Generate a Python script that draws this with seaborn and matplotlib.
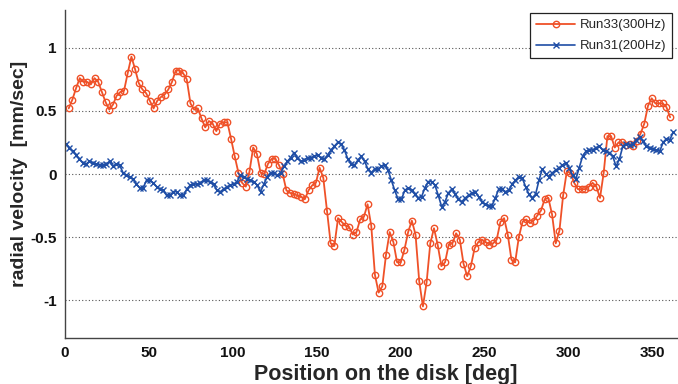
import numpy as np
import pandas as pd
import matplotlib
matplotlib.use("Agg")
import matplotlib.pyplot as plt
import seaborn as sns

# ---------------- data ----------------
red_label = "Run33(300Hz)"
blue_label = "Run31(200Hz)"

red_start, red_step = 2.2, 2.2
red_vals = [
    0.52, 0.59, 0.68, 0.76, 0.73, 0.73, 0.71, 0.76, 0.73, 0.65,
    0.57, 0.51, 0.55, 0.62, 0.65, 0.66, 0.80, 0.93, 0.83, 0.72,
    0.67, 0.64, 0.58, 0.52, 0.58, 0.61, 0.63, 0.67, 0.73, 0.82,
    0.82, 0.80, 0.75, 0.56, 0.51, 0.52, 0.44, 0.37, 0.42, 0.40,
    0.34, 0.40, 0.41, 0.41, 0.28, 0.14, 0.01, -0.07, -0.10, 0.02,
    0.21, 0.16, 0.01, 0.00, 0.08, 0.12, 0.12, 0.07, 0.00, -0.13,
    -0.15, -0.16, -0.17, -0.18, -0.20, -0.13, -0.09, -0.07, 0.05, -0.03,
    -0.29, -0.55, -0.57, -0.35, -0.38, -0.41, -0.42, -0.48, -0.46, -0.36,
    -0.34, -0.24, -0.41, -0.80, -0.94, -0.89, -0.64, -0.46, -0.54, -0.70,
    -0.70, -0.60, -0.46, -0.37, -0.48, -0.85, -1.05, -0.86, -0.55, -0.43,
    -0.56, -0.73, -0.70, -0.56, -0.55, -0.47, -0.52, -0.71, -0.81, -0.73,
    -0.59, -0.54, -0.52, -0.54, -0.56, -0.55, -0.52, -0.38, -0.35, -0.48,
    -0.68, -0.70, -0.50, -0.38, -0.36, -0.39, -0.37, -0.33, -0.29, -0.20,
    -0.19, -0.32, -0.55, -0.45, -0.17, 0.02, 0.01, -0.07, -0.12, -0.12,
    -0.12, -0.10, -0.07, -0.10, -0.19, 0.01, 0.30, 0.30, 0.21, 0.25,
    0.25, 0.23, 0.24, 0.22, 0.26, 0.32, 0.40, 0.54, 0.60, 0.56,
    0.56, 0.56, 0.53, 0.45,
]

blue_start, blue_step = 0.6, 2.0
blue_vals = [
    0.24, 0.21, 0.18, 0.15, 0.12, 0.09, 0.08, 0.10, 0.09, 0.08,
    0.07, 0.07, 0.08, 0.10, 0.06, 0.08, 0.07, 0.01, -0.01, -0.02,
    -0.04, -0.08, -0.11, -0.11, -0.05, -0.05, -0.07, -0.10, -0.12, -0.13,
    -0.17, -0.17, -0.14, -0.14, -0.17, -0.17, -0.12, -0.09, -0.08, -0.08,
    -0.07, -0.05, -0.05, -0.06, -0.08, -0.13, -0.14, -0.12, -0.10, -0.09,
    -0.08, -0.06, -0.01, -0.02, -0.04, -0.05, -0.06, -0.09, -0.14, -0.08,
    -0.02, 0.01, 0.01, -0.01, 0.01, 0.06, 0.10, 0.13, 0.17, 0.13,
    0.10, 0.11, 0.13, 0.13, 0.14, 0.15, 0.13, 0.12, 0.15, 0.19,
    0.22, 0.25, 0.24, 0.19, 0.12, 0.08, 0.07, 0.11, 0.14, 0.10,
    0.04, 0.01, 0.04, 0.04, 0.06, 0.07, 0.03, -0.05, -0.13, -0.20,
    -0.20, -0.13, -0.11, -0.13, -0.16, -0.19, -0.18, -0.11, -0.06, -0.06,
    -0.09, -0.17, -0.26, -0.22, -0.15, -0.12, -0.16, -0.20, -0.22, -0.19,
    -0.17, -0.15, -0.14, -0.18, -0.22, -0.24, -0.25, -0.25, -0.19, -0.12,
    -0.12, -0.14, -0.13, -0.08, -0.05, -0.02, -0.03, -0.10, -0.16, -0.19,
    -0.16, -0.05, 0.04, 0.00, -0.02, 0.01, 0.03, 0.05, 0.07, 0.09,
    0.05, -0.01, -0.04, 0.05, 0.14, 0.18, 0.19, 0.19, 0.21, 0.22,
    0.19, 0.18, 0.17, 0.14, 0.06, 0.12, 0.22, 0.24, 0.23, 0.24,
    0.27, 0.29, 0.26, 0.22, 0.21, 0.20, 0.19, 0.18, 0.25, 0.28,
    0.27, 0.33,
]

x_ticks = [0, 50, 100, 150, 200, 250, 300, 350]
y_ticks = [-1, -0.5, 0, 0.5, 1]
y_ticklabels = ["-1", "-0.5", "0", "0.5", "1"]
x_label = "Position on the disk [deg]"
y_label = "radial velocity  [mm/sec]"

red_x = red_start + red_step * np.arange(len(red_vals))
blue_x = blue_start + blue_step * np.arange(len(blue_vals))
df_red = pd.DataFrame({"deg": red_x, "vel": red_vals})
df_blue = pd.DataFrame({"deg": blue_x, "vel": blue_vals})

# ---------------- style ----------------
sns.set_style("white")
plt.rcParams["font.family"] = ["Liberation Sans", "DejaVu Sans"]

RED = "#EF5128"
BLUE = "#1F4EA6"

fig = plt.figure(figsize=(6.78, 3.84), dpi=100)
ax = fig.add_axes([65 / 678, 1 - 338 / 384, 1 - 65 / 678, (338 - 10) / 384])

sns.lineplot(data=df_red, x="deg", y="vel", ax=ax, color=RED, lw=1.3,
             marker="o", markersize=4.6, markerfacecolor="none",
             markeredgecolor=RED, markeredgewidth=1.0, label=red_label)
sns.lineplot(data=df_blue, x="deg", y="vel", ax=ax, color=BLUE, lw=1.2,
             marker="x", markersize=4.0, markeredgecolor=BLUE,
             markeredgewidth=1.0, label=blue_label)

ax.set_xlim(0, 365.5)
ax.set_ylim(-1.3, 1.3)
ax.set_xticks(x_ticks)
ax.set_xticklabels([str(t) for t in x_ticks])
ax.set_yticks(y_ticks)
ax.set_yticklabels(y_ticklabels)

for yv in y_ticks:
    ax.axhline(yv, color="#555555", lw=0.8, ls=(0, (1, 2)), zorder=0)

for s in ["top", "right"]:
    ax.spines[s].set_visible(False)
for s in ["left", "bottom"]:
    ax.spines[s].set_color("#444444")
    ax.spines[s].set_linewidth(1.0)

ax.tick_params(axis="both", direction="in", length=5, width=0.8,
               color="#444444", labelsize=11, pad=6)
for lab in ax.get_xticklabels() + ax.get_yticklabels():
    lab.set_fontweight("bold")
    lab.set_color("#111111")

ax.set_xlabel(x_label, fontsize=15.5, fontweight="bold")
ax.set_ylabel(y_label, fontsize=14, fontweight="bold")
ax.xaxis.set_label_coords((386 - 65) / 613, -0.078)
ax.xaxis.label.set_va("top")
ax.yaxis.set_label_coords((28 - 65) / 613, 0.5)

leg = ax.legend(loc="upper right", bbox_to_anchor=(0.99, 0.99),
                fontsize=9.5, frameon=True, fancybox=False,
                handlelength=3.0, handletextpad=0.3, borderpad=0.45,
                labelspacing=0.65, borderaxespad=0)
leg.get_frame().set_edgecolor("#222222")
leg.get_frame().set_linewidth(0.9)
leg.get_frame().set_alpha(1.0)

fig.savefig("out.png", dpi=100)
